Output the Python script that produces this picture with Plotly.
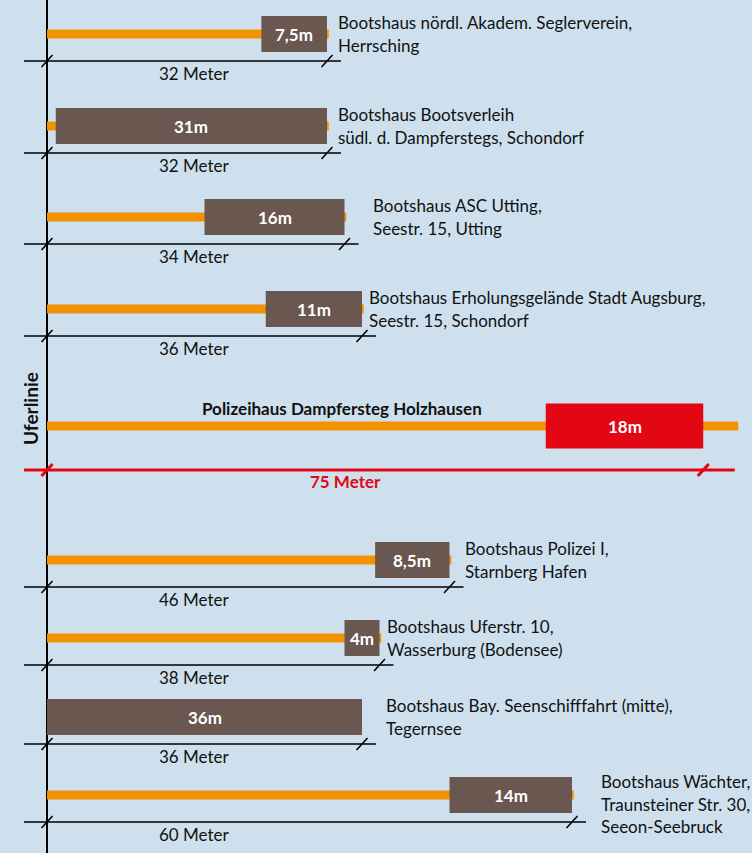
import plotly.graph_objects as go

# ---------------- data ----------------
names = [
    "Bootshaus nördl. Akadem. Seglerverein,<br>Herrsching",
    "Bootshaus Bootsverleih<br>südl. d. Dampferstegs, Schondorf",
    "Bootshaus ASC Utting,<br>Seestr. 15, Utting",
    "Bootshaus Erholungsgelände Stadt Augsburg,<br>Seestr. 15, Schondorf",
    "Polizeihaus Dampfersteg Holzhausen",
    "Bootshaus Polizei I,<br>Starnberg Hafen",
    "Bootshaus Uferstr. 10,<br>Wasserburg (Bodensee)",
    "Bootshaus Bay. Seenschifffahrt (mitte),<br>Tegernsee",
    "Bootshaus Wächter,<br>Traunsteiner Str. 30,<br>Seeon-Seebruck",
]
total_m = [32, 32, 34, 36, 75, 46, 38, 36, 60]          # Abstand zur Uferlinie (Meter)
house_m = [7.5, 31, 16, 11, 18, 8.5, 4, 36, 14]          # Länge Bootshaus (Meter)
house_lbl = ["7,5m", "31m", "16m", "11m", "18m", "8,5m", "4m", "36m", "14m"]
dist_lbl = ["32 Meter", "32 Meter", "34 Meter", "36 Meter", "75 Meter",
            "46 Meter", "38 Meter", "36 Meter", "60 Meter"]
pier_m = [32.2, 32.2, 34.2, 36.2, 79, 46.2, 38.2, 36, 60.2]  # Steglänge
highlight = 4  # Polizeihaus

# ---------------- layout helpers (positions / styles) ----------------
W, H = 752, 853
PX_PER_M = 8.75
X0_PX = 47
row_y = [34, 126, 217, 309, 426, 560, 638, 717, 795]
label_shift_px = [9, 9, 26, 5, 0, 13, 5, 22, 27]
label_yoff = [0, 0, 0, 0, 0, 0, 0, 0, 9]
BG = "#cee0ee"
ORANGE = "#f39200"
BROWN = "#6a5850"
RED = "#e30613"
FONT = "Lato"
FS = 17

fig = go.Figure()
shapes = []
ann = []
mpp = 1 / PX_PER_M  # metres per pixel

# Uferlinie
shapes.append(dict(type="line", x0=0, x1=0, y0=0, y1=H, xref="x", yref="y",
                   line=dict(color="black", width=2)))
ann.append(dict(x=-17 * mpp, y=409, text="<b>Uferlinie</b>", textangle=-90, showarrow=False,
                font=dict(family=FONT, size=19, color="#111"), xref="x", yref="y"))

for i in range(len(names)):
    y = row_y[i]
    hl = i == highlight
    tot = total_m[i]
    # pier (orange)
    shapes.append(dict(type="rect", x0=0, x1=pier_m[i], y0=y - 4.5, y1=y + 4.5,
                       fillcolor=ORANGE, line=dict(width=0), layer="above"))
    # house
    hh = 22.5 if hl else 18
    shapes.append(dict(type="rect", x0=tot - house_m[i], x1=tot, y0=y - hh, y1=y + hh,
                       fillcolor=RED if hl else BROWN, line=dict(width=0), layer="above"))
    ann.append(dict(x=tot - house_m[i] / 2, y=y, text="<b>" + house_lbl[i] + "</b>",
                    showarrow=False, font=dict(family=FONT, size=FS, color="white")))
    # dimension line
    dy = 44 if hl else 27
    dcol = RED if hl else "black"
    dw = 3 if hl else 1.6
    end_ext = 3.6 if hl else 1.6
    shapes.append(dict(type="line", x0=-23 * mpp, x1=tot + end_ext, y0=y + dy, y1=y + dy,
                       line=dict(color=dcol, width=dw), layer="above"))
    for tx in (0, tot):
        shapes.append(dict(type="line", x0=tx - 5.5 * mpp, x1=tx + 5.5 * mpp,
                           y0=y + dy + 6, y1=y + dy - 6,
                           line=dict(color=dcol, width=dw), layer="above"))
    if hl:
        ann.append(dict(x=34.1, y=y + dy + 11, text="<b>" + dist_lbl[i] + "</b>", showarrow=False,
                        font=dict(family=FONT, size=FS, color=RED)))
        ann.append(dict(x=33.7, y=y - 18, text="<b>" + names[i] + "</b>", showarrow=False,
                        font=dict(family=FONT, size=FS, color="#111")))
    else:
        ann.append(dict(x=16.9, y=y + dy + 12, text=dist_lbl[i], showarrow=False,
                        font=dict(family=FONT, size=FS, color="#111")))
        lines = names[i].split("<br>")
        n = len(lines)
        for k, ln in enumerate(lines):
            ann.append(dict(x=tot, xshift=label_shift_px[i], xanchor="left",
                            y=y + label_yoff[i] + (k - (n - 1) / 2) * 22.5,
                            text=ln, showarrow=False,
                            font=dict(family=FONT, size=FS, color="#111")))

for s in shapes:
    s.setdefault("xref", "x")
    s.setdefault("yref", "y")
for a in ann:
    a.setdefault("xref", "x")
    a.setdefault("yref", "y")

fig.add_trace(go.Scatter(x=[0], y=[0], mode="markers", marker=dict(opacity=0),
                         hoverinfo="skip", showlegend=False))

fig.update_layout(
    width=W, height=H,
    margin=dict(l=0, r=0, t=0, b=0),
    paper_bgcolor=BG, plot_bgcolor=BG,
    shapes=shapes, annotations=ann,
    xaxis=dict(range=[-X0_PX * mpp, (W - X0_PX) * mpp], visible=False, fixedrange=True),
    yaxis=dict(range=[H, 0], visible=False, fixedrange=True),
    showlegend=False,
)

fig.write_html(
    "out.html",
    config={"displayModeBar": False},
    post_script="document.body.style.margin='0';document.body.style.overflow='hidden';",
)
